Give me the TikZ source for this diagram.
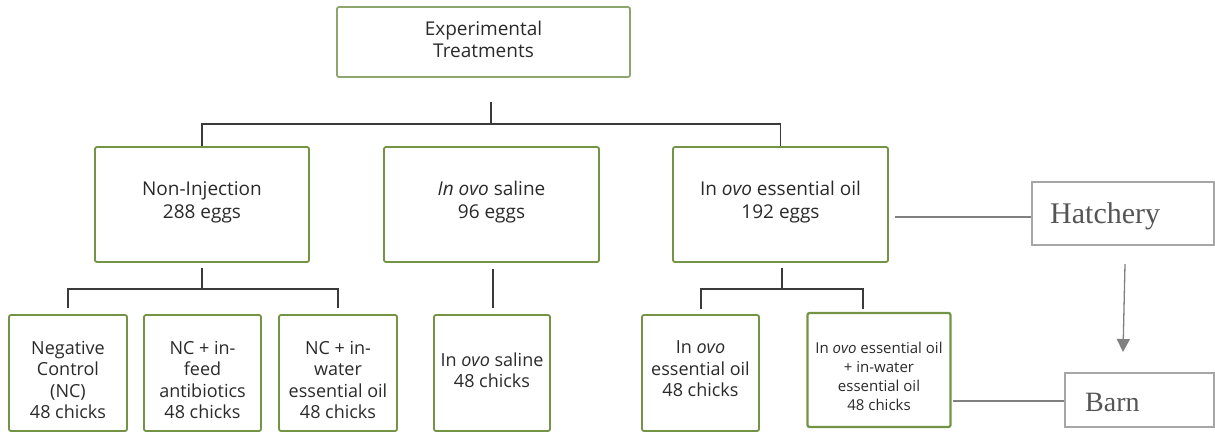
\documentclass[tikz,border=0pt]{standalone}
\usepackage{fontspec}
\setmainfont{Open Sans}
\newfontfamily\serifb{Liberation Serif}
\usetikzlibrary{arrows.meta}
\definecolor{boxgreen}{HTML}{739445}
\definecolor{topgreen}{HTML}{8EA66E}
\definecolor{linegray}{HTML}{3A3A3A}
\definecolor{txtgray}{HTML}{2A2A2A}
\definecolor{sidegray}{HTML}{808080}
\definecolor{sideborder}{HTML}{A6A6A6}
\definecolor{sidetext}{HTML}{555555}
\begin{document}
\begin{tikzpicture}[x=1pt,y=-1pt,
  gbox/.style={draw=boxgreen, line width=1.8pt, rounded corners=2pt, inner sep=0pt},
  lbl/.style={text=txtgray, align=center, inner sep=0pt},
  fmid/.style={font=\fontsize{19}{23}\selectfont},
  fbot/.style={font=\fontsize{18}{21.5}\selectfont},
  conn/.style={draw=linegray, line width=1.8pt},
  sbox/.style={draw=sideborder, line width=1.2pt, inner sep=0pt},
  sline/.style={draw=sidegray, line width=1.3pt},
  stxt/.style={text=sidetext, inner sep=0pt}]
\useasboundingbox (0,0) rectangle (1215,432);

% top
\node[gbox, draw=topgreen, minimum width=293pt, minimum height=70pt] (top) at (483.5,42) {};
\node[lbl, font=\fontsize{19}{22}\selectfont] (topT) at ([yshift=3pt]top.center) {Experimental\\Treatments};

% middle row
\node[gbox, minimum width=214pt, minimum height=115pt] (mid1) at (202,204.5) {};
\node[gbox, minimum width=215pt, minimum height=115pt] (mid2) at (491.5,204.5) {};
\node[gbox, minimum width=215pt, minimum height=115pt] (mid3) at (780.5,204.5) {};
\node[lbl, fmid] (mid1T) at ([yshift=2pt]mid1.center) {Non-Injection\\288 eggs};
\node[lbl, fmid] (mid2T) at ([yshift=2pt]mid2.center) {\textit{In ovo} saline\\96 eggs};
\node[lbl, fmid] (mid3T) at ([yshift=2pt]mid3.center) {In \textit{ovo} essential oil\\192 eggs};

% bottom row
\node[gbox, minimum width=118pt, minimum height=116pt] (b1) at (68,373) {};
\node[gbox, minimum width=117pt, minimum height=116pt] (b2) at (202.5,373) {};
\node[gbox, minimum width=118pt, minimum height=116pt] (b3) at (338,373) {};
\node[gbox, minimum width=116pt, minimum height=116pt] (b4) at (492,373) {};
\node[gbox, minimum width=117pt, minimum height=116pt] (b5) at (700.5,373) {};
\node[gbox, line width=2.2pt, minimum width=143pt, minimum height=114pt] (b6) at (879,370) {};
\node[lbl, fbot] (b1T) at ([yshift=-7pt]b1.center) {Negative\\Control\\(NC)\\48 chicks};
\node[lbl, fbot] (b2T) at ([yshift=-7pt]b2.center) {NC + in-\\feed\\antibiotics\\48 chicks};
\node[lbl, fbot] (b3T) at ([yshift=-7pt]b3.center) {NC + in-\\water\\essential oil\\48 chicks};
\node[lbl, fbot] (b4T) at ([yshift=3pt]b4.center) {In \textit{ovo} saline\\48 chicks};
\node[lbl, fbot] (b5T) at ([yshift=4pt]b5.center) {In \textit{ovo}\\essential oil\\48 chicks};
\node[lbl, font=\fontsize{15}{19}\selectfont] (b6T) at ([yshift=-6pt]b6.center) {In \textit{ovo} essential oil\\+ in-water\\essential oil\\48 chicks};

% side boxes
\node[sbox, minimum width=182pt, minimum height=63pt] (hat) at (1123,213.5) {};
\node[sbox, minimum width=149pt, minimum height=54pt] (barn) at (1139.5,400) {};
\node[stxt, anchor=base west, font=\serifb\fontsize{30}{34}\selectfont] (hatT) at (1050,223) {Hatchery};
\node[stxt, anchor=base west, font=\serifb\fontsize{28}{32}\selectfont] (barnT) at (1085,411) {Barn};

% top tree
\coordinate (j0) at (491,102);
\coordinate (j1) at (491,124);
\draw[conn] (j0) -- (j1);
\draw[conn] (mid1.north) |- (j1) -| (mid3.north);

% left tree
\coordinate (k0) at ([yshift=-5pt]mid1.south);
\coordinate (k1) at ([yshift=-26pt]mid1.south);
\coordinate (k2) at ([yshift=6pt]b1.north);
\coordinate (k3) at ([yshift=6pt]b3.north);
\draw[conn] (k0) -- (k1);
\draw[conn] (k2) |- (k1) -| (k3);

% middle stub
\coordinate (m0) at ([xshift=1.5pt,yshift=-6pt]mid2.south);
\coordinate (m1) at ([xshift=1pt,yshift=6pt]b4.north);
\draw[conn] (m0) -- (m0 |- m1);

% right tree
\coordinate (r0) at ([xshift=1.5pt,yshift=-5pt]mid3.south);
\coordinate (r1) at ([xshift=1.5pt,yshift=-26pt]mid3.south);
\coordinate (r2) at (701,309);
\coordinate (r3) at (863,309);
\draw[conn] (r0) -- (r1);
\draw[conn] (r2) |- (r1) -| (r3);

% side connectors
\coordinate (h0) at (895,217);
\draw[sline] (h0) -- (h0 -| hat.west);
\coordinate (n0) at (953,401);
\draw[sline] (n0) -- (n0 -| barn.west);
\coordinate (a0) at (1125,264);
\coordinate (a1) at (1123,352);
\draw[sline, -{Triangle[length=13pt,width=13pt]}] (a0) -- (a1);
\end{tikzpicture}
\end{document}
